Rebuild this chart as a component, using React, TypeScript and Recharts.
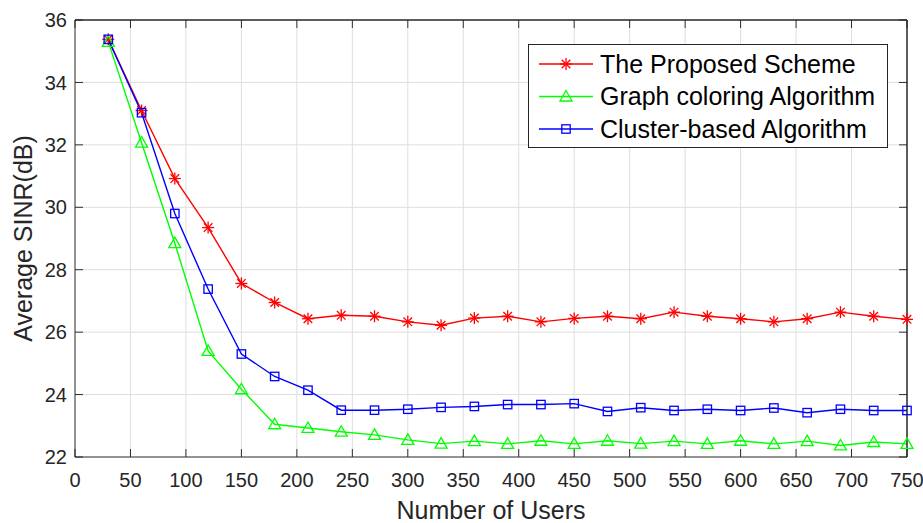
import React from 'react';
import { LineChart, Line, XAxis, YAxis, CartesianGrid, Legend, ReferenceLine } from 'recharts';

const users = [30, 60, 90, 120, 150, 180, 210, 240, 270, 300, 330, 360, 390, 420, 450, 480, 510, 540, 570, 600, 630, 660, 690, 720, 750];
const proposedScheme = [35.38, 33.1, 30.92, 29.35, 27.56, 26.95, 26.43, 26.54, 26.51, 26.33, 26.22, 26.45, 26.51, 26.33, 26.44, 26.51, 26.43, 26.64, 26.51, 26.43, 26.33, 26.43, 26.64, 26.51, 26.41];
const graphColoring = [35.3, 32.07, 28.85, 25.4, 24.17, 23.05, 22.93, 22.81, 22.71, 22.55, 22.43, 22.51, 22.42, 22.52, 22.42, 22.52, 22.43, 22.51, 22.42, 22.52, 22.42, 22.51, 22.37, 22.48, 22.42];
const clusterBased = [35.38, 33.03, 29.8, 27.38, 25.3, 24.58, 24.14, 23.5, 23.5, 23.53, 23.59, 23.62, 23.68, 23.68, 23.71, 23.46, 23.58, 23.49, 23.53, 23.49, 23.57, 23.42, 23.53, 23.49, 23.49];

const xTicks = [0, 50, 100, 150, 200, 250, 300, 350, 400, 450, 500, 550, 600, 650, 700, 750];
const yTicks = [22, 24, 26, 28, 30, 32, 34, 36];
const xDomain = [0, 750];
const yDomain = [22, 36];
const xInner = xTicks.filter((v) => v !== xDomain[0] && v !== xDomain[1]);
const yInner = yTicks.filter((v) => v !== yDomain[0] && v !== yDomain[1]);

const seriesOrder = ['proposed', 'graph', 'cluster'];
const seriesNames = {
  proposed: 'The Proposed Scheme',
  graph: 'Graph coloring Algorithm',
  cluster: 'Cluster-based Algorithm',
};
const seriesColors = { proposed: '#ff0000', graph: '#00ff00', cluster: '#0000ff' };
const seriesMarkers = { proposed: 'star', graph: 'triangle', cluster: 'square' };

const data = users.map((u, i) => ({
  users: u,
  proposed: proposedScheme[i],
  graph: graphColoring[i],
  cluster: clusterBased[i],
}));

const CHART_W = 923;
const CHART_H = 523;
const MARGIN = { top: 20, right: 16, left: 0, bottom: 0 };
const Y_AXIS_W = 75;
const X_AXIS_H = 66;
const PLOT_W = CHART_W - MARGIN.left - MARGIN.right - Y_AXIS_W;
const PLOT_H = CHART_H - MARGIN.top - MARGIN.bottom - X_AXIS_H;

const AXIS = '#262626';
const GRID = '#dedede';
const FONT = '"Liberation Sans", Arial, Helvetica, sans-serif';
const TICK_LEN = 8;
const TICK_FONT = 20;
const LW = 1.4;

function Marker({ kind, cx, cy, color }: { kind: string; cx: number; cy: number; color: string }) {
  if (kind === 'star') {
    const r = 6;
    const d = 4.3;
    return (
      <g stroke={color} strokeWidth={1.3} fill="none">
        <line x1={cx - r} x2={cx + r} y1={cy} y2={cy} />
        <line x1={cx} x2={cx} y1={cy - r} y2={cy + r} />
        <line x1={cx - d} x2={cx + d} y1={cy - d} y2={cy + d} />
        <line x1={cx - d} x2={cx + d} y1={cy + d} y2={cy - d} />
      </g>
    );
  }
  if (kind === 'triangle') {
    return (
      <polygon
        points={`${cx},${cy - 6} ${cx - 6},${cy + 4.5} ${cx + 6},${cy + 4.5}`}
        fill="none"
        stroke={color}
        strokeWidth={1.3}
      />
    );
  }
  return <rect x={cx - 4.2} y={cy - 4.2} width={8.4} height={8.4} fill="none" stroke={color} strokeWidth={1.3} />;
}

const makeDot = (key: string) => (props: any) => {
  const { cx, cy, index } = props;
  if (cx == null || cy == null) return <g key={`${key}-${index}`} />;
  return (
    <g key={`${key}-${index}`}>
      <Marker kind={(seriesMarkers as any)[key]} cx={cx} cy={cy} color={(seriesColors as any)[key]} />
    </g>
  );
};

const BottomTick = (p: any) => {
  const { x, y, payload } = p;
  return (
    <text x={x} y={y} dy="0.71em" textAnchor="middle" fontSize={TICK_FONT} fill={AXIS} fontFamily={FONT}>
      {payload.value}
    </text>
  );
};

const LeftTick = (p: any) => {
  const { x, y, payload } = p;
  return (
    <text x={x} y={y} dy="0.355em" textAnchor="end" fontSize={TICK_FONT} fill={AXIS} fontFamily={FONT}>
      {payload.value}
    </text>
  );
};

const YLabel = (props: any) => {
  const vb = props.viewBox || {};
  const cy = (vb.y ?? MARGIN.top) + (vb.height ?? PLOT_H) / 2;
  const x = 32;
  return (
    <text
      x={x}
      y={cy}
      transform={`rotate(-90, ${x}, ${cy})`}
      textAnchor="middle"
      fontSize={25}
      fill={AXIS}
      fontFamily={FONT}
    >
      Average SINR(dB)
    </text>
  );
};

const LegendBox = (props: any) => {
  const seen = new Set<string>();
  const payload = (props.payload || [])
    .filter((e: any) => {
      const k = String(e.dataKey);
      if (e.type === 'none' || !seriesOrder.includes(k) || seen.has(k)) return false;
      seen.add(k);
      return true;
    })
    .sort((a: any, b: any) => seriesOrder.indexOf(String(a.dataKey)) - seriesOrder.indexOf(String(b.dataKey)));
  return (
    <svg width={361} height={105} style={{ display: 'block' }}>
      <rect x={0.5} y={0.5} width={359} height={103} fill="#ffffff" stroke={AXIS} strokeWidth={1} />
      {payload.map((e: any, i: number) => {
        const key = String(e.dataKey);
        const cy = 20 + i * 32.5;
        const color = (seriesColors as any)[key] || e.color;
        return (
          <g key={key}>
            <line x1={11} x2={65} y1={cy} y2={cy} stroke={color} strokeWidth={LW} />
            <Marker kind={(seriesMarkers as any)[key]} cx={38} cy={cy} color={color} />
            <text x={72} y={cy} dy="0.355em" fontSize={25} fill="#000" fontFamily={FONT}>
              {e.value}
            </text>
          </g>
        );
      })}
    </svg>
  );
};

const anyProps = (o: any) => o;

export default function App() {
  return (
    <div style={{ position: 'absolute', left: 0, top: 0 }}>
      <LineChart width={CHART_W} height={CHART_H} data={data} margin={MARGIN}>
        {/* light grid, leaving the tick-mark zones at both ends free */}
        <CartesianGrid
          {...anyProps({ zIndex: -300 })}
          vertical={false}
          horizontalValues={yInner}
          stroke={GRID}
          strokeWidth={1}
          strokeDasharray={`0 ${TICK_LEN} ${PLOT_W - 2 * TICK_LEN} ${TICK_LEN}`}
        />
        <CartesianGrid
          {...anyProps({ zIndex: -300 })}
          horizontal={false}
          verticalValues={xInner}
          stroke={GRID}
          strokeWidth={1}
          strokeDasharray={`0 ${TICK_LEN} ${PLOT_H - 2 * TICK_LEN} ${TICK_LEN}`}
        />
        {/* inward tick marks on all four sides */}
        <CartesianGrid
          {...anyProps({ zIndex: 600 })}
          vertical={false}
          horizontalValues={yTicks}
          stroke={AXIS}
          strokeWidth={1}
          strokeDasharray={`${TICK_LEN} ${PLOT_W - 2 * TICK_LEN}`}
        />
        <CartesianGrid
          {...anyProps({ zIndex: 600 })}
          horizontal={false}
          verticalValues={xTicks}
          stroke={AXIS}
          strokeWidth={1}
          strokeDasharray={`${TICK_LEN} ${PLOT_H - 2 * TICK_LEN}`}
        />
        {/* top and right box borders */}
        <CartesianGrid
          {...anyProps({ zIndex: 600 })}
          horizontalValues={[yDomain[1]]}
          verticalValues={[xDomain[1]]}
          stroke={AXIS}
          strokeWidth={1}
        />
        <ReferenceLine {...anyProps({ zIndex: 600 })} x={xDomain[1]} stroke={AXIS} strokeWidth={1} ifOverflow="extendDomain" />
        <ReferenceLine {...anyProps({ zIndex: 600 })} y={yDomain[1]} stroke={AXIS} strokeWidth={1} ifOverflow="extendDomain" />
        <XAxis
          dataKey="users"
          type="number"
          domain={xDomain}
          ticks={xTicks}
          interval={0}
          height={X_AXIS_H}
          tickMargin={10}
          tickLine={false}
          stroke={AXIS}
          tick={BottomTick}
          label={{ value: 'Number of Users', position: 'insideBottom', offset: 4, fontSize: 25, fill: AXIS, fontFamily: FONT }}
        />
        <YAxis
          type="number"
          domain={yDomain}
          ticks={yTicks}
          interval={0}
          width={Y_AXIS_W}
          tickMargin={2}
          tickLine={false}
          stroke={AXIS}
          tick={LeftTick}
          label={{ value: 'Average SINR(dB)', content: YLabel }}
        />
        <Legend
          layout="horizontal"
          align="center"
          verticalAlign="middle"
          itemSorter={null as any}
          content={LegendBox}
          wrapperStyle={{ left: 528, top: 44, width: 361, height: 105 }}
        />
        <Line
          dataKey="proposed"
          name={seriesNames.proposed}
          stroke={seriesColors.proposed}
          strokeWidth={LW}
          dot={makeDot('proposed')}
          isAnimationActive={false}
        />
        <Line
          dataKey="graph"
          name={seriesNames.graph}
          stroke={seriesColors.graph}
          strokeWidth={LW}
          dot={makeDot('graph')}
          isAnimationActive={false}
        />
        <Line
          dataKey="cluster"
          name={seriesNames.cluster}
          stroke={seriesColors.cluster}
          strokeWidth={LW}
          dot={makeDot('cluster')}
          isAnimationActive={false}
        />
      </LineChart>
    </div>
  );
}
